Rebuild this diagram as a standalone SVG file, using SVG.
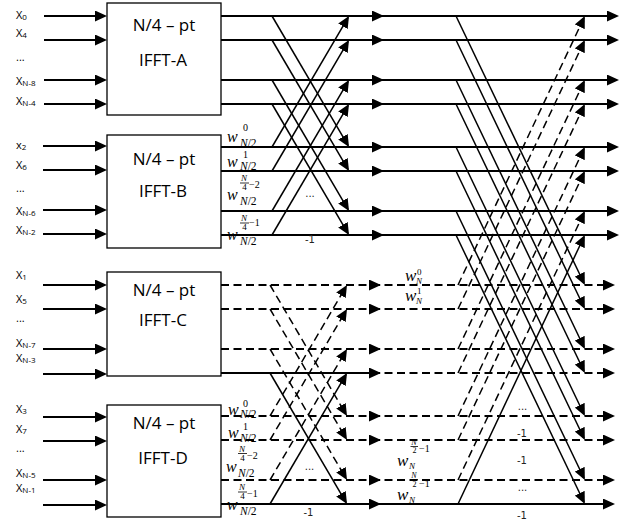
<svg xmlns="http://www.w3.org/2000/svg" width="635" height="524" viewBox="0 0 635 524">
<defs>
<marker id="ah" viewBox="0 0 12 11" refX="10" refY="5.5" markerWidth="12" markerHeight="11" markerUnits="userSpaceOnUse" orient="auto"><path d="M0,0 L12,5.5 L0,11 Z" fill="#000"/></marker>
</defs>
<style>
.h{stroke:#000;stroke-width:2;fill:none;marker-end:url(#ah)}
.d{stroke:#000;stroke-width:1.5;fill:none;marker-end:url(#ah)}
.ds{stroke-dasharray:8 4.5}
.blk{fill:#fff;stroke:#000;stroke-width:1.3}
.bt{font-family:'Open Sans','Liberation Sans',sans-serif;font-size:17px;text-anchor:middle;fill:#000}
.in{font-family:'Open Sans','Liberation Sans',sans-serif;font-size:11px;fill:#000}
.in tspan{font-size:8px}
.mt{font-family:'Liberation Serif','DejaVu Serif',serif;fill:#000}
.w{font-style:italic;font-size:16px}
.w2{font-style:italic;font-size:17px}
.sp{font-size:10px}
.sb{font-size:11.5px}
.s9{font-size:9px}
.it{font-style:italic}
.fr{font-size:9px;text-anchor:middle}
.fr2{font-size:8px;text-anchor:middle}
.bar{stroke:#000;stroke-width:0.8}
.sm{font-family:'DejaVu Sans','Liberation Sans',sans-serif;font-size:10px;fill:#222;text-anchor:middle}
</style>
<rect width="635" height="524" fill="#fff"/>

<g id="blockA"><rect class="blk" x="107" y="3" width="114" height="112"/><text class="bt" x="164" y="31">N/4 – pt</text><text class="bt" x="163" y="66">IFFT-A</text></g>
<g id="blockB"><rect class="blk" x="107" y="135" width="114" height="113"/><text class="bt" x="164" y="165">N/4 – pt</text><text class="bt" x="163" y="197">IFFT-B</text></g>
<g id="blockC"><rect class="blk" x="107" y="272" width="114" height="104"/><text class="bt" x="164" y="296">N/4 – pt</text><text class="bt" x="163" y="326">IFFT-C</text></g>
<g id="blockD"><rect class="blk" x="107" y="405" width="114" height="112"/><text class="bt" x="164" y="429">N/4 – pt</text><text class="bt" x="163" y="464">IFFT-D</text></g>

<g id="inputs">
<text class="in" x="16" y="19">X<tspan dy="1">0</tspan></text>
<text class="in" x="16" y="37">X<tspan dy="1">4</tspan></text>
<text class="in" x="16" y="61">...</text>
<text class="in" x="16" y="85">X<tspan dy="1">N-8</tspan></text>
<text class="in" x="16" y="105">X<tspan dy="1">N-4</tspan></text>
<text class="in" x="16" y="149">x<tspan dy="1">2</tspan></text>
<text class="in" x="16" y="169">X<tspan dy="1">6</tspan></text>
<text class="in" x="16" y="192">...</text>
<text class="in" x="16" y="215">X<tspan dy="1">N-6</tspan></text>
<text class="in" x="16" y="234">X<tspan dy="1">N-2</tspan></text>
<text class="in" x="16" y="279">X<tspan dy="1">1</tspan></text>
<text class="in" x="16" y="303">X<tspan dy="1">5</tspan></text>
<text class="in" x="16" y="322">...</text>
<text class="in" x="16" y="347">X<tspan dy="1">N-7</tspan></text>
<text class="in" x="16" y="362">X<tspan dy="1">N-3</tspan></text>
<text class="in" x="16" y="413">X<tspan dy="1">3</tspan></text>
<text class="in" x="16" y="433">X<tspan dy="1">7</tspan></text>
<text class="in" x="16" y="452">...</text>
<text class="in" x="16" y="477">X<tspan dy="1">N-5</tspan></text>
<text class="in" x="16" y="492">X<tspan dy="1">N-1</tspan></text>
</g>

<g id="connectors">
<path class="h" d="M44,16H105"/><path class="h" d="M44,40H105"/><path class="h" d="M44,80H105"/><path class="h" d="M44,104H105"/>
<path class="h" d="M43,146H105"/><path class="h" d="M43,170H105"/><path class="h" d="M43,210H105"/><path class="h" d="M43,234H105"/>
<path class="h" d="M43,285H105"/><path class="h" d="M43,309H105"/><path class="h" d="M43,349H105"/><path class="h" d="M43,374H105"/>
<path class="h" d="M43,417H105"/><path class="h" d="M43,441H105"/><path class="h" d="M43,480H105"/><path class="h" d="M43,505H105"/>
<path class="h" d="M221,16H382"/><path class="h" d="M375,16H617"/>
<path class="h" d="M221,40H382"/><path class="h" d="M375,40H617"/>
<path class="h" d="M221,80H382"/><path class="h" d="M375,80H617"/>
<path class="h" d="M221,104H382"/><path class="h" d="M375,104H617"/>
<path class="h" d="M221,147H382"/><path class="h" d="M375,147H617"/>
<path class="h" d="M221,171H382"/><path class="h" d="M375,171H617"/>
<path class="h" d="M221,211H382"/><path class="h" d="M375,211H617"/>
<path class="h" d="M221,235H382"/><path class="h" d="M375,235H617"/>
<path class="h ds" d="M221,285H379"/><path class="h ds" d="M372,285H613"/>
<path class="h ds" d="M221,309H379"/><path class="h ds" d="M372,309H613"/>
<path class="h ds" d="M221,349H379"/><path class="h ds" d="M372,349H613"/>
<path class="h" d="M221,373H379"/><path class="h ds" d="M372,373H613"/>
<path class="h ds" d="M221,416H379"/><path class="h ds" d="M372,416H613"/>
<path class="h ds" d="M221,440H379"/><path class="h ds" d="M372,440H613"/>
<path class="h ds" d="M221,480H379"/><path class="h ds" d="M372,480H613"/>
<path class="h" d="M221,504H379"/><path class="h" d="M372,504H613"/>
<path class="d" d="M272,16L348,145.3"/><path class="d" d="M272,40L348,169.3"/><path class="d" d="M272,80L348,209.3"/><path class="d" d="M272,104L348,233.3"/>
<path class="d" d="M272,147L348,17.7"/><path class="d" d="M272,171L348,41.7"/><path class="d" d="M272,211L348,81.7"/><path class="d" d="M272,235L348,105.7"/>
<path class="d ds" d="M270,285L346,414.3"/><path class="d ds" d="M270,309L346,438.3"/><path class="d ds" d="M270,349L346,478.3"/><path class="d" d="M270,373L346,502.3"/>
<path class="d ds" d="M270,416L346,286.7"/><path class="d ds" d="M270,440L346,310.7"/><path class="d ds" d="M270,480L346,350.7"/><path class="d" d="M270,504L346,374.7"/>
<path class="d" d="M456,16L584,283.2"/><path class="d" d="M456,40L584,307.2"/><path class="d" d="M456,80L584,347.2"/><path class="d" d="M456,104L584,371.2"/>
<path class="d" d="M456,147L584,414.2"/><path class="d" d="M456,171L584,438.2"/><path class="d" d="M456,211L584,478.2"/><path class="d" d="M456,235L584,502.2"/>
<path class="d ds" d="M458,285L584,17.8"/><path class="d ds" d="M458,309L584,41.8"/><path class="d ds" d="M458,349L584,81.8"/><path class="d ds" d="M458,373L584,105.8"/>
<path class="d ds" d="M458,416L584,148.8"/><path class="d ds" d="M458,440L584,172.8"/><path class="d ds" d="M458,480L584,212.8"/><path class="d" d="M458,504L584,236.8"/>
</g>

<g id="labels-stage1-AB" class="mt">
<text class="w" x="227" y="142">w</text><text class="sp" x="243" y="131">0</text><text class="sb" x="240" y="146.5"><tspan class="it">N</tspan>/2</text>
<text class="w" x="227" y="167">w</text><text class="sp" x="243" y="157.5">1</text><text class="sb" x="240" y="169.5"><tspan class="it">N</tspan>/2</text>
<text class="fr it" x="244" y="181">N</text><line class="bar" x1="240" y1="183" x2="249" y2="183"/><text class="fr" x="244.5" y="190">4</text><text class="sp" x="249" y="188">−2</text>
<text class="w" x="227" y="200">w</text><text class="sb" x="240" y="205"><tspan class="it">N</tspan>/2</text>
<text class="fr it" x="244" y="221">N</text><line class="bar" x1="240" y1="223" x2="249" y2="223"/><text class="fr" x="244.5" y="230">4</text><text class="sp" x="249" y="226">−1</text>
<text class="w" x="227" y="240">w</text><text class="sb" x="240" y="245"><tspan class="it">N</tspan>/2</text>
</g>
<g id="labels-stage1-CD" class="mt">
<text class="w" x="228" y="415">w</text><text class="sp" x="243" y="406.5">0</text><text class="sb" x="240" y="417.5"><tspan class="it">N</tspan>/2</text>
<text class="w" x="228" y="438">w</text><text class="sp" x="243" y="429.5">1</text><text class="sb" x="240" y="441.5"><tspan class="it">N</tspan>/2</text>
<text class="fr it" x="242" y="452">N</text><line class="bar" x1="238" y1="453.5" x2="247" y2="453.5"/><text class="fr" x="242.5" y="461">4</text><text class="sp" x="247" y="459">−2</text>
<text class="w" x="226" y="472">w</text><text class="sb" x="238" y="477"><tspan class="it">N</tspan>/2</text>
<text class="fr it" x="242" y="490">N</text><line class="bar" x1="238" y1="492" x2="247" y2="492"/><text class="fr" x="242.5" y="499">4</text><text class="sp" x="247" y="497">−1</text>
<text class="w" x="227" y="510">w</text><text class="sb" x="240" y="515"><tspan class="it">N</tspan>/2</text>
</g>
<g id="labels-stage2" class="mt">
<text class="w2" x="405" y="281">w</text><text class="s9" x="417" y="275">0</text><text class="s9 it" x="416" y="284">N</text>
<text class="w2" x="405" y="301">w</text><text class="s9" x="417" y="294">1</text><text class="s9 it" x="416" y="304">N</text>
<text class="fr2 it" x="414" y="445">N</text><line class="bar" x1="410.5" y1="446.5" x2="418" y2="446.5"/><text class="fr2" x="414.5" y="453">2</text><text class="sp" x="419" y="452">−1</text>
<text class="w2" x="397" y="466">w</text><text class="s9 it" x="409" y="469">N</text>
<text class="fr2 it" x="414" y="478">N</text><line class="bar" x1="410.5" y1="479.5" x2="418" y2="479.5"/><text class="fr2" x="414.5" y="486.5">2</text><text class="sp" x="419" y="487">−1</text>
<text class="w2" x="397" y="500">w</text><text class="s9 it" x="409" y="503">N</text>
</g>
<g id="small-labels">
<text class="sm" x="310" y="197">...</text><text class="sm" x="310" y="243">-1</text>
<text class="sm" x="309.5" y="470">...</text><text class="sm" x="308.5" y="516">-1</text>
<text class="sm" x="522.5" y="410">...</text><text class="sm" x="522" y="437">-1</text><text class="sm" x="522" y="464">-1</text><text class="sm" x="522.5" y="491">...</text><text class="sm" x="522" y="519">-1</text>
</g>
</svg>
